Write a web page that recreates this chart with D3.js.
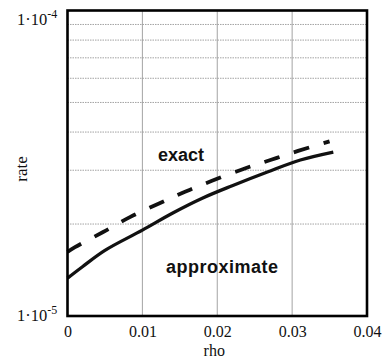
<!DOCTYPE html>
<html>
<head>
<meta charset="utf-8">
<script src="https://cdn.jsdelivr.net/npm/d3@7/dist/d3.min.js"></script>
<style>
  html, body { margin: 0; padding: 0; background: #fff; }
  svg { display: block; }
</style>
</head>
<body>
<svg id="chart" width="382" height="361"></svg>
<script>
// Rate versus rho: exact rate (dashed) and approximate rate (solid), log-scaled rate axis.
const rhoExact   = [0, 0.001, 0.0047, 0.0084, 0.0123, 0.0157, 0.0193, 0.0235, 0.0271, 0.0308, 0.035];
const rateExact  = [1.62e-5, 1.68e-5, 1.88e-5, 2.11e-5, 2.34e-5, 2.55e-5, 2.77e-5, 3.03e-5, 3.24e-5, 3.47e-5, 3.73e-5];
const rhoApprox  = [0, 0.002, 0.005, 0.010, 0.014, 0.018, 0.022, 0.0267, 0.0311, 0.0355];
const rateApprox = [1.33e-5, 1.45e-5, 1.64e-5, 1.91e-5, 2.17e-5, 2.43e-5, 2.67e-5, 2.96e-5, 3.24e-5, 3.44e-5];

const xTicks = [0, 0.01, 0.02, 0.03, 0.04];
const xTickLabels = ["0", "0.01", "0.02", "0.03", "0.04"];
const yGridValues = [2e-5, 3e-5, 4e-5, 5e-5, 6e-5, 7e-5, 8e-5, 9e-5];
const yLabelValues = [1e-4, 1e-5];
const yLabelExponents = ["-4", "-5"];

const svg = d3.select("#chart");
const plot = { left: 67.5, right: 367, top: 10.5, bottom: 316 };

const x = d3.scaleLinear().domain([0, 0.04]).range([plot.left, plot.right]);
const y = d3.scaleLog().domain([1e-5, 1e-4]).range([plot.bottom, plot.top]);

// grid
svg.append("g").selectAll("line").data(yGridValues).join("line")
  .attr("x1", plot.left).attr("x2", plot.right)
  .attr("y1", d => y(d)).attr("y2", d => y(d))
  .attr("stroke", "#999").attr("stroke-width", 0.9)
  .attr("stroke-dasharray", "1.5,1");
svg.append("g").selectAll("line").data(xTicks.slice(1, -1)).join("line")
  .attr("x1", d => x(d)).attr("x2", d => x(d))
  .attr("y1", plot.top).attr("y2", plot.bottom)
  .attr("stroke", "#999").attr("stroke-width", 0.9);

// curves
const line = d3.line().x(d => x(d[0])).y(d => y(d[1])).curve(d3.curveCatmullRom.alpha(0.5));
const exactPts = rhoExact.map((r, i) => [r, rateExact[i]]);
const approxPts = rhoApprox.map((r, i) => [r, rateApprox[i]]);

svg.append("path").datum(approxPts)
  .attr("d", line).attr("fill", "none")
  .attr("stroke", "#111").attr("stroke-width", 3.3)
  .attr("stroke-linecap", "butt");
svg.append("path").datum(exactPts)
  .attr("d", line).attr("fill", "none")
  .attr("stroke", "#111").attr("stroke-width", 3.8)
  .attr("stroke-dasharray", "16,15");

// frame
svg.append("rect")
  .attr("x", plot.left).attr("y", plot.top)
  .attr("width", plot.right - plot.left).attr("height", plot.bottom - plot.top)
  .attr("fill", "none").attr("stroke", "#000").attr("stroke-width", 2.6);

// x axis labels
const xAxis = d3.axisBottom(x).tickValues(xTicks)
  .tickFormat((d, i) => xTickLabels[i]).tickSize(0).tickPadding(10);
const gx = svg.append("g").attr("transform", `translate(0,${plot.bottom})`).call(xAxis);
gx.select(".domain").remove();
gx.selectAll("text")
  .attr("font-family", "'Liberation Serif', 'Times New Roman', serif")
  .attr("font-size", 16).attr("fill", "#111");

// y labels 1·10^n
const yLab = svg.append("g").attr("font-family", "'Liberation Serif', 'Times New Roman', serif")
  .attr("fill", "#111");
yLabelValues.forEach((v, i) => {
  const base = i === 0 ? y(v) + 14.5 : y(v) + 5;
  const t = yLab.append("text").attr("x", 17).attr("y", base).attr("font-size", 16.5);
  t.append("tspan").text("1\u00b710");
  t.append("tspan").attr("dy", -7.5).attr("font-size", 12).text(yLabelExponents[i]);
});

// axis titles
svg.append("text")
  .attr("x", (x(0.02) - 3)).attr("y", 356)
  .attr("text-anchor", "middle")
  .attr("font-family", "'Liberation Serif', 'Times New Roman', serif")
  .attr("font-size", 16).attr("fill", "#111").text("rho");
svg.append("text")
  .attr("transform", `translate(27,169) rotate(-90)`)
  .attr("text-anchor", "middle")
  .attr("font-family", "'Liberation Serif', 'Times New Roman', serif")
  .attr("font-size", 17).attr("fill", "#111").text("rate");

// curve labels
svg.append("text").attr("x", 158).attr("y", 161)
  .attr("font-family", "'Liberation Sans', Arial, sans-serif")
  .attr("font-weight", "bold").attr("font-size", 18).attr("fill", "#111")
  .text("exact");
svg.append("text").attr("x", 166).attr("y", 273)
  .attr("font-family", "'Liberation Sans', Arial, sans-serif")
  .attr("font-weight", "bold").attr("font-size", 18).attr("letter-spacing", 0.5)
  .attr("fill", "#111").text("approximate");
</script>
</body>
</html>
